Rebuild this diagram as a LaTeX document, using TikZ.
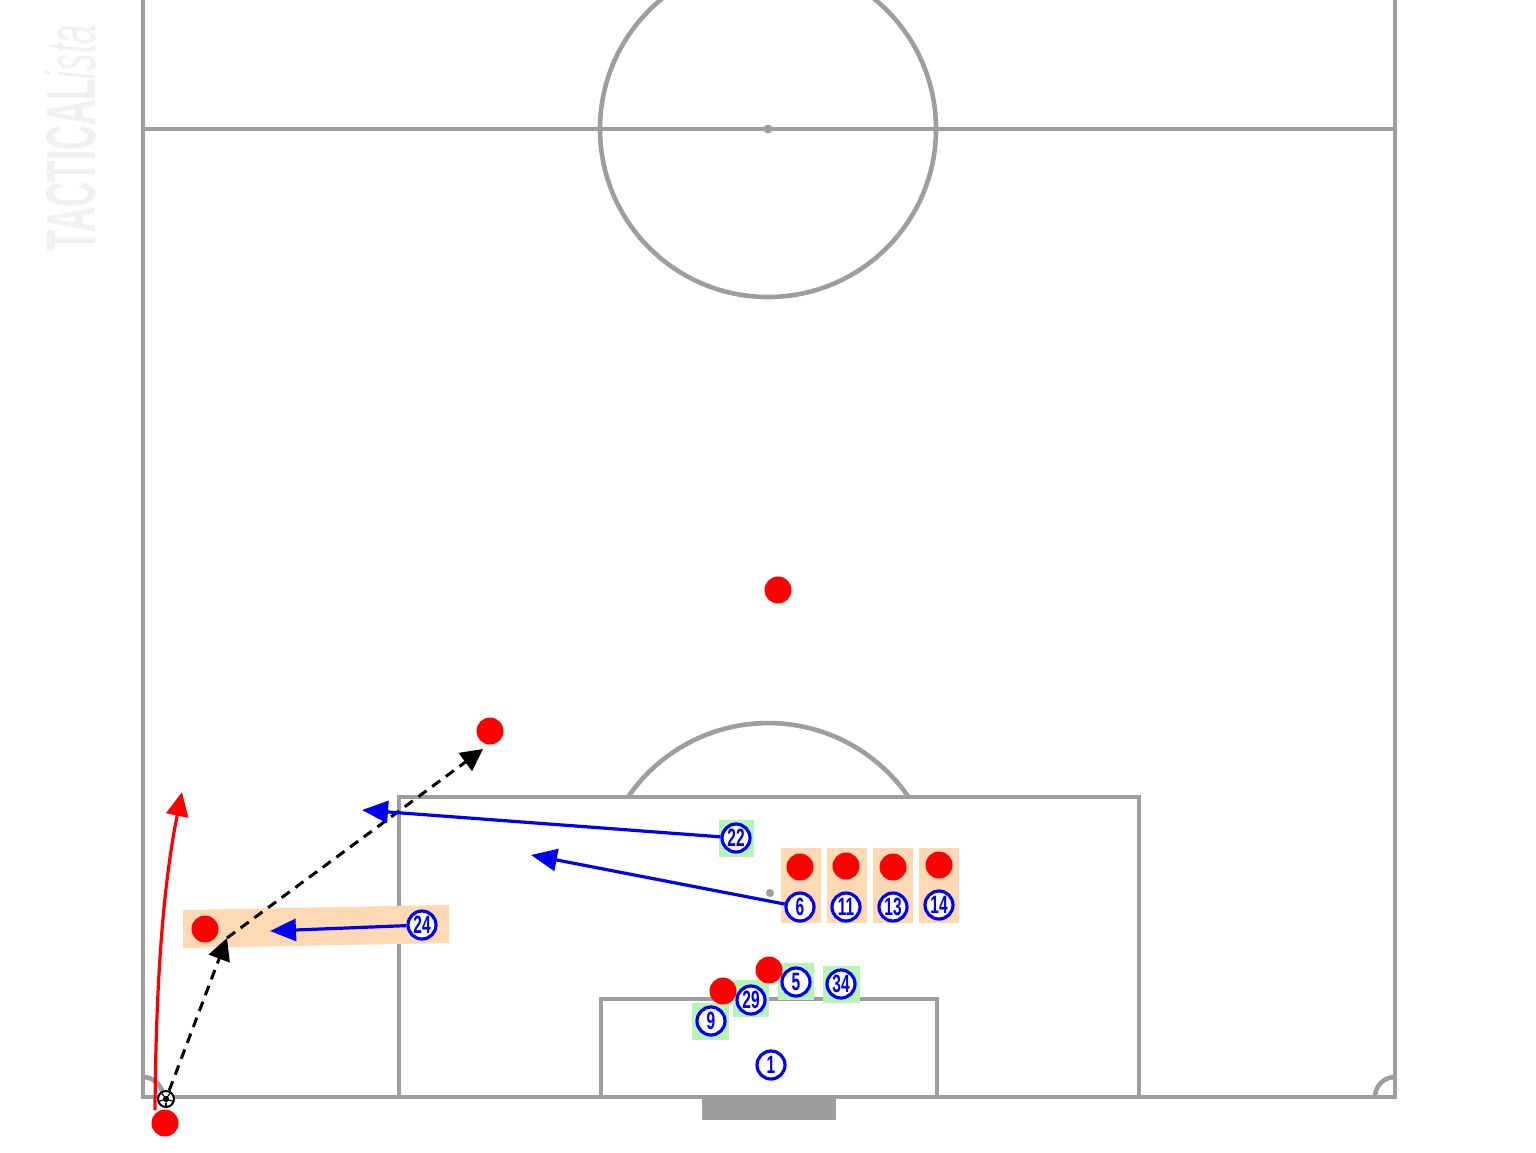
\documentclass[tikz,border=0pt]{standalone}
\usepackage{fontspec}
\setmainfont{Liberation Sans}
\usetikzlibrary{arrows.meta}
\definecolor{pitch}{HTML}{9E9E9E}
\definecolor{peach}{HTML}{FFD8B4}
\definecolor{lgreen}{HTML}{B6F5B6}
\definecolor{wmark}{HTML}{F1F1F1}
\definecolor{pblue}{HTML}{0000EE}
\tikzset{
  pline/.style={draw=pitch, line width=2.3pt},
  plr/.style={circle, draw=pblue, line width=1.6pt, fill=white, minimum size=14pt, inner sep=0pt, text=pblue,
     font=\fontsize{12.5}{12.5}\selectfont\bfseries},
  opp/.style={circle, fill=red, minimum size=13.5pt, inner sep=0pt},
  gbg/.style={fill=lgreen},
  obg/.style={fill=peach},
  bluearr/.style={draw=pblue, line width=1.6pt, -{Triangle[length=13pt,width=11pt]}},
  blackarr/.style={draw=black, line width=1.5pt, dash pattern=on 5pt off 3.5pt, -{Triangle[length=11pt,width=11pt]}},
  redarr/.style={draw=red, line width=1.6pt, -{Triangle[length=12pt,width=11pt]}},
}
\newcommand{\num}[1]{\scalebox{0.62}[1]{#1}}
\begin{document}
\begin{tikzpicture}[x=0.5pt,y=-0.5pt]
\useasboundingbox (0,0) rectangle (1536,1152);
\fill[white] (0,0) rectangle (1536,1152);
% watermark
\node[rotate=90, text=wmark, inner sep=0pt] (wm) at (70,138) {\scalebox{0.5}[1]{\fontsize{35}{35}\selectfont\textbf{TACTICAL}\textit{ista}}};
% pitch
\draw[pline] (143,-5) -- (143,1097) -- (1395,1097) -- (1395,-5);
\draw[pline] (143,129) -- (1395,129);
\draw[pline] (768,129) circle[radius=168];
\fill[pitch] (768,129) circle[radius=4.5];
\draw[pline] (399,1097) -- (399,797) -- (1139,797) -- (1139,1097);
\draw[pline] (601,1097) -- (601,999) -- (937,999) -- (937,1097);
\fill[pitch] (770,893) circle[radius=4];
\draw[pline] (628,797) arc[start angle=214.4, end angle=325.6, radius=170];
\draw[pline] (143,1077) arc[start angle=270, end angle=360, radius=20];
\draw[pline] (1375,1097) arc[start angle=180, end angle=270, radius=20];
\fill[pitch] (702,1099) rectangle (836,1120);
% backgrounds
\fill[obg] (183,910) -- (449,905) -- (449,943) -- (183,948) -- cycle;
\fill[gbg] (719,820) rectangle (754,857);
\foreach \xa in {781,827,873,919} {\fill[obg] (\xa,848) rectangle (\xa+40,923);}
\fill[gbg] (778,963) rectangle (814,1000);
\fill[gbg] (823,966) rectangle (860,1003);
\fill[gbg] (733,980) rectangle (769,1017);
\fill[gbg] (692,1003) rectangle (729,1040);
% opponents
\node[opp] (r1) at (800,867) {};
\node[opp] (r2) at (846,866) {};
\node[opp] (r3) at (893,867) {};
\node[opp] (r4) at (939,865) {};
\node[opp] (r5) at (769,970) {};
\node[opp] (r6) at (723,991) {};
\node[opp] (r7) at (778,590) {};
\node[opp] (r8) at (490,731) {};
\node[opp] (r9) at (205,929) {};
\node[opp] (r10) at (165,1123) {};
% players
\node[plr] (p22) at (736,838) {\num{22}};
\node[plr] (p6) at (800,907) {\num{6}};
\node[plr] (p11) at (846,907) {\num{11}};
\node[plr] (p13) at (893,907) {\num{13}};
\node[plr] (p14) at (939,905) {\num{14}};
\node[plr] (p24) at (422,925) {\num{24}};
\node[plr] (p5) at (796,982) {\num{5}};
\node[plr] (p34) at (841,984) {\num{34}};
\node[plr] (p29) at (751,1000) {\num{29}};
\node[plr] (p9) at (711,1021) {\num{9}};
\node[plr] (p1) at (771,1065) {\num{1}};
% ball
\node[circle, draw=black, line width=1pt, fill=white, minimum size=8pt, inner sep=0pt] (ball) at (166,1099) {};
\fill[black] (166,1099) +(90:3.6) -- +(162:3.6) -- +(234:3.6) -- +(306:3.6) -- +(18:3.6) -- cycle;
\foreach \a in {90,162,234,306,18} {\draw[black, line width=0.6pt] (166,1099) ++(\a:3.6) -- ++(\a:4.5);}
% arrow ends
\coordinate (t22) at (362,810);
\coordinate (t6) at (531,855);
\coordinate (t24) at (270,931);
\coordinate (bk1) at (227,938);
\coordinate (bk2) at (483,749);
\coordinate (rs) at (155,1110);
\coordinate (rt) at (182,792);
% arrows
\draw[redarr] (rs) .. controls (156,960) and (166,870) .. (rt);
\draw[blackarr] (ball) -- (bk1);
\draw[blackarr] (bk1) -- (bk2);
\draw[bluearr] (p22) -- (t22);
\draw[bluearr] (p6) -- (t6);
\draw[bluearr] (p24) -- (t24);
\end{tikzpicture}
\end{document}
